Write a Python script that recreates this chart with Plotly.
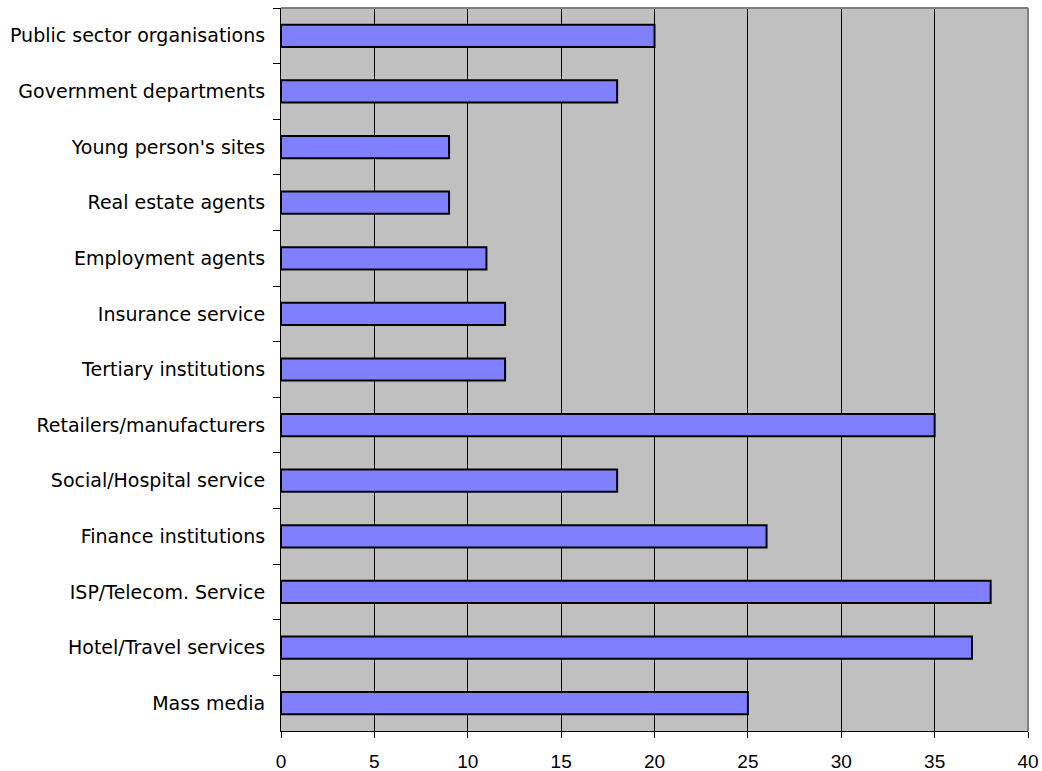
import plotly.graph_objects as go

categories = ["Public sector organisations", "Government departments", "Young person's sites",
              "Real estate agents", "Employment agents", "Insurance service", "Tertiary institutions",
              "Retailers/manufacturers", "Social/Hospital service", "Finance institutions",
              "ISP/Telecom. Service", "Hotel/Travel services", "Mass media"]
values = [20, 18, 9, 9, 11, 12, 12, 35, 18, 26, 38, 37, 25]
x_ticks = [0, 5, 10, 15, 20, 25, 30, 35, 40]

fig = go.Figure(go.Bar(
    x=values, y=categories, orientation="h",
    marker=dict(color="#8080FF", line=dict(color="#000000", width=2)),
    width=0.40,
))

fig.update_layout(
    width=1042, height=771,
    margin=dict(l=281, r=14, t=8, b=40),
    paper_bgcolor="white", plot_bgcolor="#C0C0C0",
    font=dict(family="Liberation Sans, Arial, sans-serif", size=16, color="black"),
    showlegend=False,
    shapes=[
        dict(type="line", xref="paper", yref="paper", x0=0, x1=1, y0=1, y1=1,
             line=dict(color="#808080", width=2)),
        dict(type="line", xref="paper", yref="paper", x0=1, x1=1, y0=0, y1=1,
             line=dict(color="#808080", width=2)),
    ],
)
fig.update_xaxes(range=[0, 40], tickvals=x_ticks, showgrid=True, gridcolor="black", gridwidth=1,
                 showline=True, linecolor="black", linewidth=1, ticks="outside", ticklen=6,
                 tickcolor="black", zeroline=False, fixedrange=True, automargin=False,
                 tickfont=dict(family="Liberation Sans, Arial, sans-serif", size=19),
                 ticklabelstandoff=7)
fig.update_yaxes(autorange="reversed", tickson="boundaries", ticks="outside", ticklen=7,
                 tickcolor="black", showline=True, linecolor="black", linewidth=1,
                 showgrid=False, fixedrange=True, automargin=False,
                 tickfont=dict(family="DejaVu Sans, sans-serif", size=19),
                 ticklabelstandoff=11)

fig.write_html("out.html", config={"displayModeBar": False},
               post_script="document.body.style.margin='0';document.body.style.overflow='hidden';")
